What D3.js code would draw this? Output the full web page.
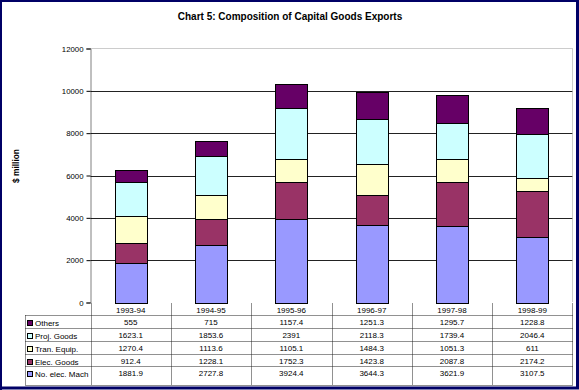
<!DOCTYPE html>
<html><head><meta charset="utf-8">
<script src="https://cdn.jsdelivr.net/npm/d3@7"></script>
<style>body{margin:0;background:#fff}svg{display:block}text{font-family:Arial,"Liberation Sans",sans-serif}</style>
</head><body><svg id="c" width="579" height="390"></svg>
<script>
const categories = ["1993-94","1994-95","1995-96","1996-97","1997-98","1998-99"];
const seriesNames = ["No. elec. Mach","Elec. Goods","Tran. Equip.","Proj. Goods","Others"];
const noElecMach = [1881.9,2727.8,3924.4,3644.3,3621.9,3107.5];
const elecGoods  = [912.4,1228.1,1752.3,1423.8,2087.8,2174.2];
const tranEquip  = [1270.4,1113.6,1105.1,1484.3,1051.3,611];
const projGoods  = [1623.1,1853.6,2391,2118.3,1739.4,2046.4];
const others     = [555,715,1157.4,1251.3,1295.7,1228.8];
const yTicks = [0,2000,4000,6000,8000,10000,12000];
const colors = ["#9999FF","#993366","#FFFFCC","#CCFFFF","#660066"];

const seriesVals = [noElecMach, elecGoods, tranEquip, projGoods, others];
const rows = categories.map((c,i)=>{const o={cat:c}; seriesNames.forEach((s,k)=>o[s]=seriesVals[k][i]); return o;});
const stack = d3.stack().keys(seriesNames)(rows);

const svg = d3.select("#c");
const L=90.5, R=572.5, T=48.5, B=302.5;
const x = d3.scaleBand().domain(categories).range([L,R]).padding(0);
const y = d3.scaleLinear().domain([0,12000]).range([B,T]);

// title
svg.append("text").attr("x",290).attr("y",20).attr("text-anchor","middle")
  .attr("font-size","10px").attr("font-weight","bold").text("Chart 5: Composition of Capital Goods Exports");

// gridlines
svg.append("g").selectAll("line").data(yTicks.filter(t=>t>0&&t<12000)).join("line")
  .attr("x1",L).attr("x2",R).attr("y1",d=>Math.round(y(d))+0.5).attr("y2",d=>Math.round(y(d))+0.5)
  .attr("stroke","#222").attr("stroke-width",1);
// plot border (top/right) gray dotted
svg.append("path").attr("d",`M${L},${T}H${R}V${B}`).attr("fill","none").attr("stroke","#999").attr("stroke-dasharray","1,1");

// bars
const bw = x.bandwidth()*0.4;
svg.append("g").selectAll("g").data(stack).join("g").attr("fill",(d,i)=>colors[i])
  .selectAll("rect").data(d=>d).join("rect")
  .attr("x",d=>Math.round(x(d.data.cat)+x.bandwidth()*0.3)+0.5)
  .attr("width",Math.round(bw))
  .attr("y",d=>Math.round(y(d[1]))+0.5)
  .attr("height",d=>Math.round(y(d[0]))-Math.round(y(d[1])))
  .attr("stroke","#000").attr("stroke-width",1);

// y axis
const ya = svg.append("g").attr("transform",`translate(${L},0)`)
  .call(d3.axisLeft(y).tickValues(yTicks).tickSize(4).tickPadding(3).tickFormat(d3.format("d")));
ya.select(".domain").attr("stroke","#000").attr("stroke-dasharray","1,1");
ya.selectAll(".tick line").attr("stroke","#000");
ya.selectAll(".tick text").attr("font-size","7.8px").attr("fill","#000").attr("font-family","Arial,'Liberation Sans',sans-serif");

svg.append("text").attr("transform","translate(19,166) rotate(-90)").attr("text-anchor","middle")
  .attr("font-size","8.4px").attr("font-weight","bold").text("$ million");

// data table
const tl = 25.5, hdrTop = 303.5;
const rowTops = [315.5,328.5,341.5,354.5,366.5];
const tBottom = 385.5;
const tab = svg.append("g").attr("stroke","#222").attr("stroke-dasharray","1,1").attr("fill","none");
rowTops.forEach(r=>tab.append("line").attr("x1",tl).attr("x2",R).attr("y1",r).attr("y2",r));
tab.append("line").attr("x1",tl).attr("x2",R).attr("y1",tBottom).attr("y2",tBottom);
tab.append("line").attr("x1",tl).attr("x2",tl).attr("y1",rowTops[0]).attr("y2",tBottom);
categories.forEach(c=>tab.append("line").attr("x1",Math.round(x(c))+0.5).attr("x2",Math.round(x(c))+0.5).attr("y1",hdrTop).attr("y2",tBottom));
tab.append("line").attr("x1",R).attr("x2",R).attr("y1",hdrTop).attr("y2",tBottom);

// header labels
svg.append("g").selectAll("text").data(categories).join("text")
  .attr("x",d=>x(d)+x.bandwidth()/2).attr("y",313).attr("text-anchor","middle")
  .attr("font-size","8px").attr("fill","#000").text(d=>d);

// table rows (top: Others ... bottom: No. elec. Mach)
const order = [4,3,2,1,0];
order.forEach((k,ri)=>{
  const top = rowTops[ri];
  const g = svg.append("g");
  g.append("rect").attr("x",27.5).attr("y",top+5).attr("width",5).attr("height",5)
    .attr("fill",colors[k]).attr("stroke","#000");
  g.append("text").attr("x",35).attr("y",top+10.5).attr("font-size","8px").attr("fill","#000").text(seriesNames[k]);
  g.selectAll("text.v").data(seriesVals[k]).join("text").attr("class","v")
    .attr("x",(d,i)=>x(categories[i])+x.bandwidth()/2).attr("y",top+9)
    .attr("text-anchor","middle").attr("font-size","8px").attr("fill","#000").text(d=>d);
});

// outer frame
svg.append("path").attr("d","M1,390V1H578").attr("fill","none").attr("stroke","#000066").attr("stroke-width",2);
svg.append("path").attr("d","M577.5,0V388H0").attr("fill","none").attr("stroke","#000066").attr("stroke-width",3);
</script></body></html>
